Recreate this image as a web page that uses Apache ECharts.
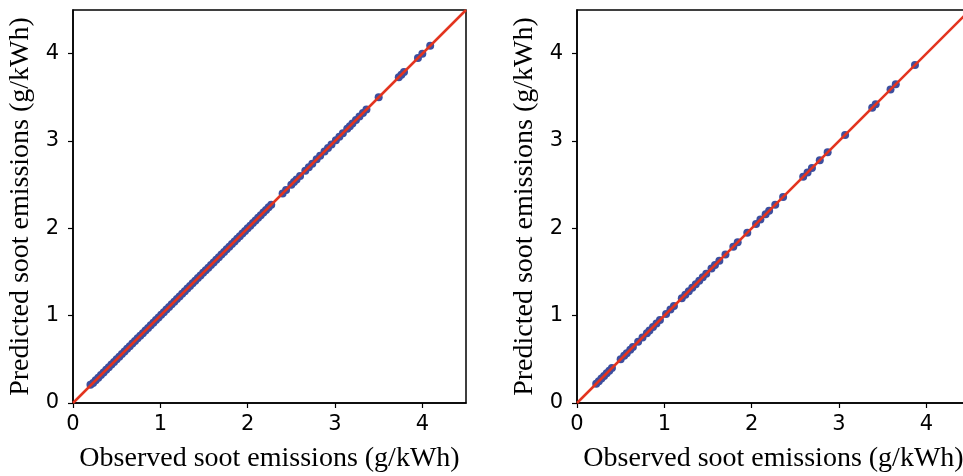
<!DOCTYPE html>
<html>
<head>
<meta charset="utf-8">
<script src="https://cdn.jsdelivr.net/npm/echarts@6/dist/echarts.min.js"></script>
<style>
  html, body { margin: 0; padding: 0; background: #fff; }
  #main { width: 963px; height: 476px; }
</style>
</head>
<body>
<div id="main"></div>
<script>
// training set (left panel): observed vs predicted soot, g/kWh
var trainObserved = [
  0.20, 0.23, 0.26, 0.29, 0.32, 0.35, 0.38, 0.41, 0.44, 0.47, 0.50, 0.53, 0.56, 0.59, 0.62,
  0.65, 0.68, 0.71, 0.74, 0.77, 0.80, 0.83, 0.86, 0.89, 0.92, 0.95, 0.98, 1.01, 1.04, 1.07,
  1.10, 1.13, 1.16, 1.19, 1.22, 1.25, 1.28, 1.31, 1.34, 1.37, 1.40, 1.43, 1.46, 1.49, 1.52,
  1.55, 1.58, 1.61, 1.64, 1.67, 1.70, 1.73, 1.76, 1.79, 1.82, 1.85, 1.88, 1.91, 1.94, 1.97,
  2.00, 2.03, 2.06, 2.09, 2.12, 2.15, 2.18, 2.21, 2.24, 2.27,
  2.40, 2.44, 2.50, 2.53, 2.56, 2.60, 2.66, 2.70, 2.74, 2.79, 2.83, 2.88, 2.92, 2.96, 3.01,
  3.05, 3.09, 3.14, 3.17, 3.20, 3.24, 3.28, 3.32, 3.36, 3.50, 3.73, 3.76, 3.79, 3.95, 4.00, 4.09
];
var trainPredicted = [
  0.21, 0.23, 0.26, 0.29, 0.32, 0.35, 0.38, 0.41, 0.44, 0.47, 0.50, 0.53, 0.56, 0.59, 0.62,
  0.65, 0.68, 0.71, 0.74, 0.77, 0.80, 0.83, 0.86, 0.89, 0.92, 0.95, 0.98, 1.01, 1.04, 1.07,
  1.10, 1.13, 1.16, 1.19, 1.22, 1.25, 1.28, 1.31, 1.34, 1.37, 1.40, 1.43, 1.46, 1.49, 1.52,
  1.55, 1.58, 1.61, 1.64, 1.67, 1.70, 1.73, 1.76, 1.79, 1.82, 1.85, 1.88, 1.91, 1.94, 1.97,
  2.00, 2.03, 2.06, 2.09, 2.12, 2.15, 2.18, 2.21, 2.24, 2.27,
  2.40, 2.44, 2.50, 2.53, 2.56, 2.60, 2.66, 2.70, 2.74, 2.79, 2.83, 2.88, 2.92, 2.96, 3.01,
  3.05, 3.09, 3.14, 3.17, 3.20, 3.24, 3.28, 3.32, 3.36, 3.50, 3.73, 3.76, 3.79, 3.95, 4.00, 4.09
];

// test set (right panel)
var testObserved = [
  0.22, 0.25, 0.28, 0.31, 0.34, 0.37, 0.40, 0.50, 0.54, 0.57, 0.61, 0.64, 0.70, 0.75, 0.80,
  0.83, 0.87, 0.91, 0.95, 1.02, 1.07, 1.11, 1.20, 1.24, 1.28, 1.32, 1.36, 1.40, 1.44, 1.48,
  1.54, 1.58, 1.63, 1.70, 1.79, 1.84, 1.95, 2.05, 2.10, 2.16, 2.20, 2.27, 2.36, 2.59, 2.64,
  2.69, 2.78, 2.87, 3.07, 3.38, 3.42, 3.59, 3.65, 3.87
];
var testPredicted = [
  0.22, 0.25, 0.28, 0.31, 0.34, 0.37, 0.40, 0.50, 0.54, 0.57, 0.61, 0.64, 0.70, 0.75, 0.80,
  0.83, 0.87, 0.91, 0.95, 1.02, 1.07, 1.11, 1.20, 1.24, 1.28, 1.32, 1.36, 1.40, 1.44, 1.48,
  1.54, 1.58, 1.63, 1.70, 1.79, 1.84, 1.95, 2.05, 2.10, 2.16, 2.20, 2.27, 2.36, 2.59, 2.64,
  2.69, 2.78, 2.87, 3.07, 3.38, 3.42, 3.59, 3.65, 3.87
];

// y = x reference line
var identityLine = [[0, 0], [4.5, 4.5]];

var xName = 'Observed soot emissions (g/kWh)';
var yName = 'Predicted soot emissions (g/kWh)';

function pairs(xs, ys) {
  return xs.map(function (x, i) { return [x, ys[i]]; });
}

var chart = echarts.init(document.getElementById('main'));

var tickFont = { fontFamily: 'DejaVu Sans', fontSize: 21, color: '#000' };
var nameFont = { fontFamily: 'Liberation Serif', fontSize: 28, color: '#000' };

function makeAxis(idx, isX) {
  return {
    type: 'value',
    gridIndex: idx,
    min: 0,
    max: 4.5,
    interval: 1,
    name: isX ? xName : yName,
    nameLocation: 'middle',
    nameGap: isX ? 42 : 38,
    nameTextStyle: nameFont,
    axisLine: { show: true, onZero: false, lineStyle: { color: '#000', width: 1.5 } },
    axisTick: { show: true, length: 5, lineStyle: { color: '#000', width: 1.2 } },
    axisLabel: Object.assign({ margin: isX ? 11 : 14, showMaxLabel: false }, tickFont),
    splitLine: { show: false }
  };
}

var option = {
  animation: false,
  backgroundColor: '#fff',
  grid: [
    { left: 73, top: 10, width: 393, height: 393, outerBoundsMode: 'none',
      show: true, borderColor: '#000', borderWidth: 1.5 },
    { left: 577, top: 10, width: 393, height: 393, outerBoundsMode: 'none',
      show: true, borderColor: '#000', borderWidth: 1.5 }
  ],
  xAxis: [makeAxis(0, true), makeAxis(1, true)],
  yAxis: [makeAxis(0, false), makeAxis(1, false)],
  series: [
    {
      type: 'scatter', xAxisIndex: 0, yAxisIndex: 0,
      data: pairs(trainObserved, trainPredicted),
      symbolSize: 8,
      itemStyle: { color: '#3c4f9f', opacity: 1 }
    },
    {
      type: 'line', xAxisIndex: 0, yAxisIndex: 0,
      data: identityLine, symbol: 'none',
      lineStyle: { color: '#e3341f', width: 2.5 }
    },
    {
      type: 'scatter', xAxisIndex: 1, yAxisIndex: 1,
      data: pairs(testObserved, testPredicted),
      symbolSize: 8,
      itemStyle: { color: '#3c4f9f', opacity: 1 }
    },
    {
      type: 'line', xAxisIndex: 1, yAxisIndex: 1,
      data: identityLine, symbol: 'none',
      lineStyle: { color: '#e3341f', width: 2.5 }
    }
  ]
};

option && chart.setOption(option);
</script>
</body>
</html>
